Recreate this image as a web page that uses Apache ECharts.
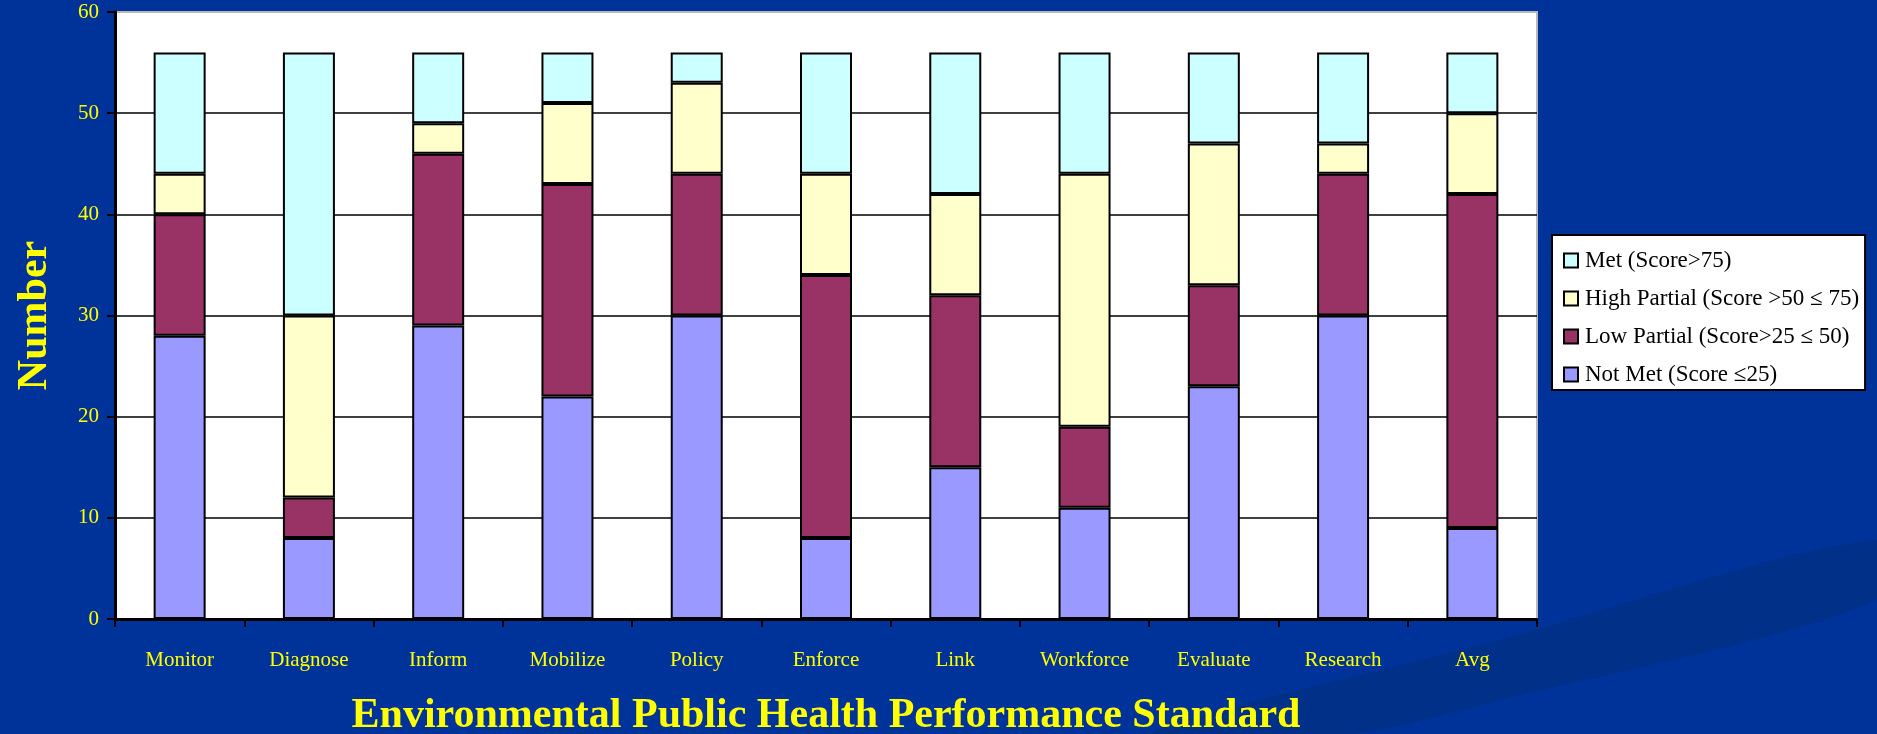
<!DOCTYPE html>
<html>
<head>
	<meta charset="UTF-8">
	<title>Environmental Public Health Performance Standard</title>
	<style type="text/css">
		html, body { margin: 0; padding: 0; background: #003399; }
		#main { width: 1877px; height: 734px; }
	</style>
	<script src="https://cdn.jsdelivr.net/npm/echarts@6/dist/echarts.min.js"></script>
</head>
<body>
	<div id="main"></div>
	<script>
		// categories and stacked counts
		var categories = ['Monitor', 'Diagnose', 'Inform', 'Mobilize', 'Policy', 'Enforce', 'Link', 'Workforce', 'Evaluate', 'Research', 'Avg'];
		var notMet      = [28, 8, 29, 22, 30, 8, 15, 11, 23, 30, 9];
		var lowPartial  = [12, 4, 17, 21, 14, 26, 17, 8, 10, 14, 33];
		var highPartial = [4, 18, 3, 8, 9, 10, 10, 25, 14, 3, 8];
		var met         = [12, 26, 7, 5, 3, 12, 14, 12, 9, 9, 6];

		var seriesNames = ['Met (Score>75)', 'High Partial (Score >50 \u2264 75)', 'Low Partial (Score>25 \u2264 50)', 'Not Met (Score \u226425)'];
		var colors = ['#ccffff', '#ffffcc', '#993366', '#9999ff'];

		var chart = echarts.init(document.getElementById('main'));

		function barSeries(name, data, color) {
			return {
				name: name,
				type: 'bar',
				stack: 'total',
				barWidth: 52,
				data: data,
				itemStyle: { color: color, borderColor: '#000', borderWidth: 2 }
			};
		}

		var font = '"Liberation Serif", "Times New Roman", serif';

		var option = {
			backgroundColor: '#003399',
			animation: false,
			textStyle: { fontFamily: font },
			// faint swoosh in the slide background
			graphic: [{
				type: 'polygon',
				z: -10,
				shape: { points: [[1150, 734], [1500, 640], [1877, 540], [1877, 600], [1500, 700], [1350, 734]], smooth: 0.3 },
				style: { fill: '#003088' }
			}],
			grid: {
				left: 115,
				right: 340,
				top: 12,
				bottom: 115,
				outerBoundsMode: 'none',
				show: true,
				backgroundColor: '#fff',
				borderColor: '#b8b8b8',
				borderWidth: 2
			},
			legend: {
				orient: 'vertical',
				left: 1552,
				top: 235,
				data: seriesNames,
				backgroundColor: '#fff',
				borderColor: '#000',
				borderWidth: 2,
				padding: [14, 6, 4, 11],
				itemGap: 15,
				itemWidth: 14,
				itemHeight: 14,
				icon: 'rect',
				itemStyle: { borderColor: '#000', borderWidth: 2 },
				textStyle: { color: '#000', fontSize: 23, fontFamily: font, padding: [0, 0, 0, 2] }
			},
			xAxis: {
				type: 'category',
				data: categories,
				name: 'Environmental Public Health Performance Standard',
				nameLocation: 'middle',
				nameGap: 76,
				nameTextStyle: { color: '#ffff00', fontSize: 42, fontWeight: 'bold', fontFamily: font },
				axisLine: { lineStyle: { color: '#000', width: 3 } },
				axisTick: { show: true, length: 8, lineStyle: { color: '#000', width: 2 } },
				axisLabel: { color: '#ffff00', fontSize: 21, margin: 31, fontFamily: font }
			},
			yAxis: {
				type: 'value',
				min: 0,
				max: 60,
				interval: 10,
				name: 'Number',
				nameLocation: 'middle',
				nameGap: 59,
				nameTextStyle: { color: '#ffff00', fontSize: 42, fontWeight: 'bold', fontFamily: font },
				axisLine: { show: true, lineStyle: { color: '#000', width: 3 } },
				axisTick: { show: true, length: 8, lineStyle: { color: '#000', width: 2 } },
				axisLabel: { color: '#ffff00', fontSize: 21, margin: 16, fontFamily: font },
				splitLine: { showMaxLine: false, lineStyle: { color: '#000', width: 1.5 } }
			},
			series: [
				barSeries(seriesNames[3], notMet, colors[3]),
				barSeries(seriesNames[2], lowPartial, colors[2]),
				barSeries(seriesNames[1], highPartial, colors[1]),
				barSeries(seriesNames[0], met, colors[0])
			]
		};

		chart.setOption(option);
	</script>
</body>
</html>
